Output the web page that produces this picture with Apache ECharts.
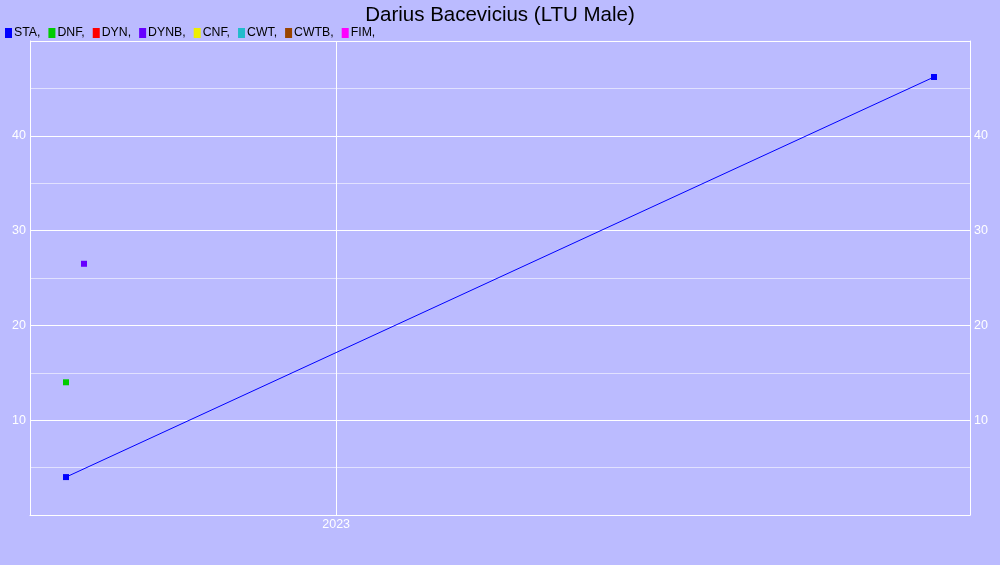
<!DOCTYPE html>
<html><head><meta charset="utf-8">
<script src="https://cdn.jsdelivr.net/npm/echarts@6/dist/echarts.min.js"></script>
<style>html,body{margin:0;padding:0;background:#BBBBFF}#c{width:1000px;height:565px}</style>
</head><body><div id="c"></div>
<script>
const title = 'Darius Bacevicius (LTU Male)';
const disciplines = ['STA','DNF','DYN','DYNB','CNF','CWT','CWTB','FIM'];
const colors = ['#0000FF','#00CC00','#FF0000','#6600FF','#EEEE00','#22BBCC','#994400','#FF00FF'];
const staDates = ['2022-08-04','2023-11-29'];
const staValues = [4.0, 46.2];
const dnfDates = ['2022-08-04'];
const dnfValues = [14.0];
const dynbDates = ['2022-08-14'];
const dynbValues = [26.5];
const xMin = '2022-07-15';
const xMax = '2023-12-19';
const yearTicks = ['2023-01-01'];

const ts = s => Date.parse(s + 'T00:00:00Z');
const seriesData = {
  STA: staDates.map((d,i)=>[ts(d), staValues[i]]),
  DNF: dnfDates.map((d,i)=>[ts(d), dnfValues[i]]),
  DYNB: dynbDates.map((d,i)=>[ts(d), dynbValues[i]])
};
const series = disciplines.map((name,i)=>({
  name, type:'line', data: seriesData[name] || [],
  yAxisIndex:0,
  symbol:'rect', symbolSize:6, showSymbol:true,
  itemStyle:{color:colors[i]},
  lineStyle:{color:colors[i], width:1},
  animation:false
}));

const chart = echarts.init(document.getElementById('c'), null, {renderer:'canvas'});
const yAxisBase = {
  type:'value', min:0, max:50, interval:10,
  axisLine:{show:true, lineStyle:{color:'#FFFFFF', width:1}},
  axisTick:{show:false},
  axisLabel:{color:'#FFFFFF', fontSize:12.5, margin:4, fontFamily:'Liberation Sans, Arial', showMinLabel:false, showMaxLabel:false},
  splitLine:{show:true, lineStyle:{color:'#FFFFFF', width:1}},
  minorTick:{show:false, splitNumber:2},
  minorSplitLine:{show:true, lineStyle:{color:'rgba(255,255,255,0.35)', width:1}}
};
chart.setOption({
  backgroundColor:'#BBBBFF',
  title:{text:title, left:'center', top:0, textStyle:{fontSize:20.5, fontWeight:'normal', color:'#000', fontFamily:'Liberation Sans, Arial'}},
  legend:{data:disciplines, left:0, top:22, itemWidth:7, itemHeight:10, itemGap:8, icon:'rect',
    formatter: n => n + ',',
    textStyle:{fontSize:12.3, color:'#000', fontFamily:'Liberation Sans, Arial', padding:[0,0,0,-3]}},
  grid:{left:30, right:30, top:41, bottom:50, containLabel:false},
  xAxis:{type:'value', min:ts(xMin), max:ts(xMax),
    axisLine:{show:true, onZero:false, lineStyle:{color:'#FFFFFF'}},
    axisTick:{show:false, customValues: yearTicks.map(ts)},
    axisLabel:{color:'#FFFFFF', fontSize:12.5, margin:3, fontFamily:'Liberation Sans, Arial', customValues: yearTicks.map(ts),
      formatter: v => String(new Date(v).getUTCFullYear())},
    splitLine:{show:true, lineStyle:{color:'#FFFFFF'}}
  },
  yAxis:[Object.assign({position:'left'}, yAxisBase), Object.assign({position:'right'}, yAxisBase)],
  series
});
</script></body></html>
